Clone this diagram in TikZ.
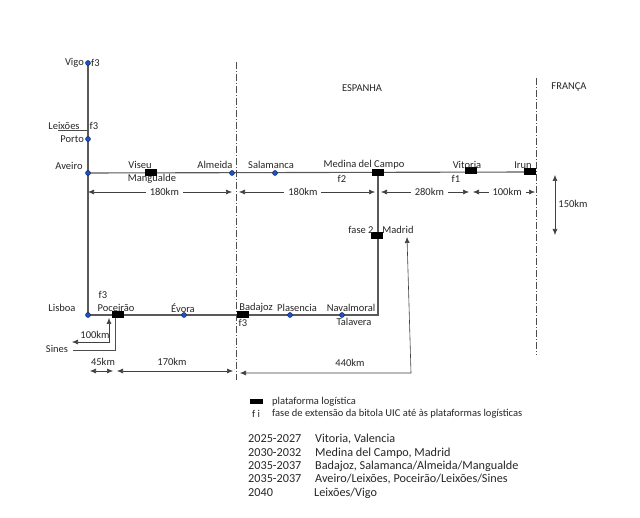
\documentclass[tikz,border=0pt]{standalone}
\usepackage{fontspec}
\setmainfont{Carlito}
\usetikzlibrary{
	arrows.meta,
	backgrounds,
	positioning
}
\definecolor{StopBlue}{RGB}{30,80,200}
\definecolor{StopEdge}{RGB}{20,30,80}

\begin{document}
\begin{tikzpicture}[x=1pt, y=-1pt,
	font=\fontsize{10.5}{12}\selectfont,
	stop/.style={circle, draw=StopEdge, fill=StopBlue, inner sep=0pt, minimum size=5pt},
	platform/.style={fill=black, inner sep=0pt, minimum width=12pt, minimum height=7pt},
	track/.style={line width=1.1pt, black!65},
	border/.style={line width=0.9pt, black!70, dash pattern=on 7pt off 2pt on 1pt off 2pt},
	dim/.style={black!75, line width=0.6pt, {Latex[length=6pt,width=5pt]}-{Latex[length=6pt,width=5pt]}},
	km/.style={fill=white, inner sep=4pt, text=black!85},
	txt/.style={inner sep=0pt, text=black!85}]
	\useasboundingbox (0,0) rectangle (640,518);
	
	% estações e plataformas
	\node[stop] (vigo) at (88,63) {};
	\node[stop] (porto) at (88,139) {};
	\node[stop] (aveiro) at (88,173) {};
	\node[platform] (viseu) at (151,173) {};
	\node[stop] (almeida) at (232,173) {};
	\node[stop] (salamanca) at (275,173) {};
	\node[platform] (medina) at (378,173) {};
	\node[platform] (vitoria) at (471,171) {};
	\node[platform] (irun) at (530,172) {};
	\node[platform] (madrid) at (377,236) {};
	\node[stop] (lisboa) at (88,315) {};
	\node[platform] (poceirao) at (118,315) {};
	\node[stop] (evora) at (184,315) {};
	\node[platform] (badajoz) at (243,315) {};
	\node[stop] (plasencia) at (290,315) {};
	\node[stop] (navalmoral) at (342,315) {};
	\coordinate (corner) at (378,315);
	\coordinate (leixoes) at (58,130);
	\coordinate (sines) at (73,350);
	
	% linhas
	\begin{scope}[on background layer]
		\fill[white] (0,0) rectangle (640,518);
		\draw[track] (vigo.center) -- (lisboa.center);
		\draw[track] (aveiro.center) -- (irun.center);
		\draw[track] (medina.center) -- (corner) -- (lisboa.center);
		\draw[line width=0.8pt, black!70] (leixoes) -- (leixoes -| vigo);
		\draw[line width=0.8pt, black!70] (poceirao.center) ++(-3,0) |- (sines);
	\end{scope}
	
	% fronteiras
	\draw[border] (236,62) -- (236,380);
	\draw[border] (536,78) -- (536,355);
	\node[txt] at (362,88) {ESPANHA};
	\node[txt] at (569,87) {FRANÇA};
	
	% nomes
	\node[txt, anchor=east] at (84,63) {Vigo};
	\node[txt, anchor=west] at (91,63) {f3};
	\node[txt] at (64,126) {Leixões};
	\node[txt] at (94,126) {f3};
	\node[txt, anchor=east] at (84,139) {Porto};
	\node[txt] at (69,166) {Aveiro};
	\node[txt] at (140,165) {Viseu};
	\node[txt] at (152,179) {Mangualde};
	\node[txt] at (215,165) {Almeida};
	\node[txt] at (271,165) {Salamanca};
	\node[txt] at (364,165) {Medina del Campo};
	\node[txt] at (342,179) {f2};
	\node[txt] at (467,165) {Vitoria};
	\node[txt] at (456,179) {f1};
	\node[txt] at (523,165) {Irun};
	\node[txt] at (361,230) {fase 2};
	\node[txt] at (398,230) {Madrid};
	\node[txt] at (62,308) {Lisboa};
	\node[txt] at (103,295) {f3};
	\node[txt] at (116,308) {Poceirão};
	\node[txt] at (183,308) {Évora};
	\node[txt] at (256,308) {Badajoz};
	\node[txt] at (243,323) {f3};
	\node[txt] at (297,308) {Plasencia};
	\node[txt] at (351,308) {Navalmoral};
	\node[txt] at (354,322) {Talavera};
	\node[txt] at (57,349) {Sines};
	
	% distâncias
	\draw[dim] (88,192) -- node[km, pos=0.53] {180km} (232,192);
	\draw[dim] (239,192) -- node[km, pos=0.47] {180km} (375,192);
	\draw[dim] (381,192) -- node[km, pos=0.55] {280km} (469,192);
	\draw[dim] (473,192) -- node[km, pos=0.55] {100km} (535,192);
	\draw[dim] (555,175) -- (555,235);
	\node[txt] at (573,204) {150km};
	\draw[dim] (72,342) -| (109,318);
	\node[txt] at (95,335) {100km};
	\draw[dim] (90,371) -- (113,371);
	\node[txt] at (103,362) {45km};
	\draw[dim] (117,371) -- (233,371);
	\node[txt] at (172,362) {170km};
	\draw[dim] (407,237) -- (411,373) -- (240,373);
	\node[txt] at (350,363) {440km};
	
	% legenda
	\node[platform, minimum width=13pt, minimum height=5pt] (legblock) at (256,402) {};
	\node[txt, anchor=west] at (272,402) {plataforma logística};
	\node[txt] at (256,414) {f i};
	\node[txt, anchor=west] at (272,414) {fase de extensão da bitola UIC até às plataformas logísticas};
	\begin{scope}[font=\fontsize{12.2}{14}\selectfont]
		\node[txt, anchor=west] at (248,439) {2025-2027};
		\node[txt, anchor=west] at (315,439) {Vitoria, Valencia};
		\node[txt, anchor=west] at (248,453) {2030-2032};
		\node[txt, anchor=west] at (315,453) {Medina del Campo, Madrid};
		\node[txt, anchor=west] at (248,466) {2035-2037};
		\node[txt, anchor=west] at (315,466) {Badajoz, Salamanca/Almeida/Mangualde};
		\node[txt, anchor=west] at (248,479) {2035-2037};
		\node[txt, anchor=west] at (315,479) {Aveiro/Leixões, Poceirão/Leixões/Sines};
		\node[txt, anchor=west] at (248,493) {2040};
		\node[txt, anchor=west] at (314,493) {Leixões/Vigo};
	\end{scope}
\end{tikzpicture}
\end{document}
